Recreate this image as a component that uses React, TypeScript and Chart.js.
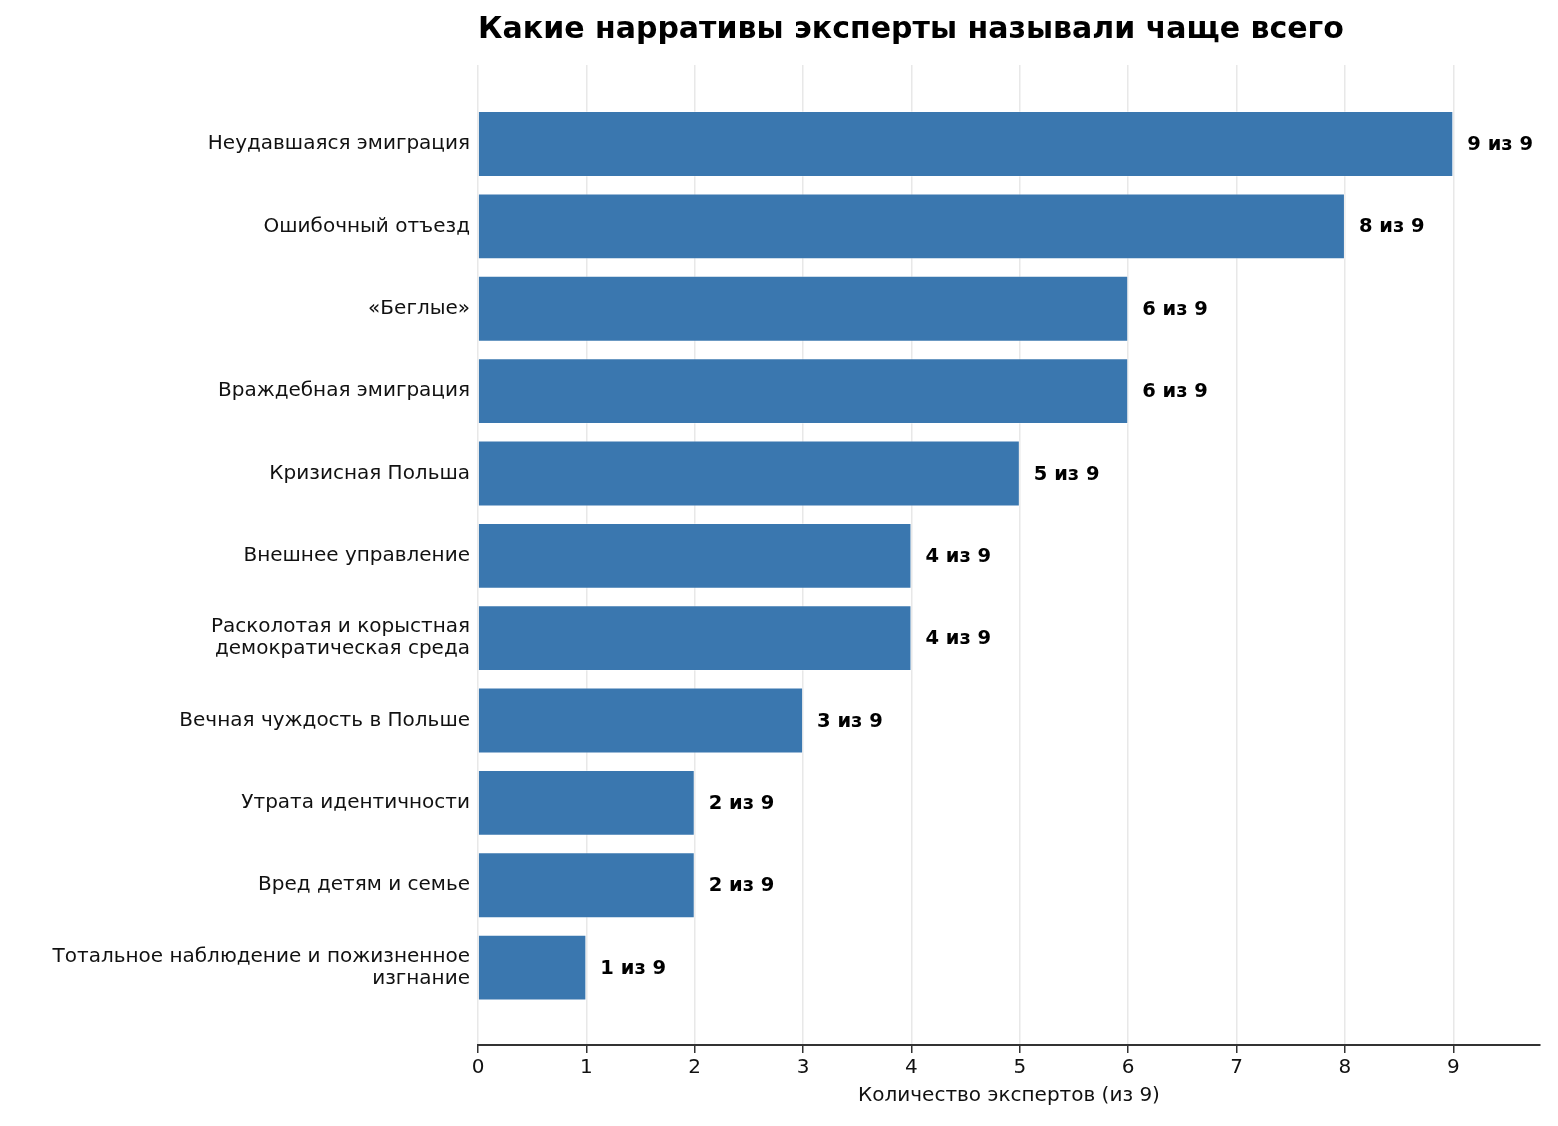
import { useEffect, useRef } from "react";
import Chart from "chart.js/auto";

const categories: (string | string[])[] = [
  "Неудавшаяся эмиграция",
  "Ошибочный отъезд",
  "«Беглые»",
  "Враждебная эмиграция",
  "Кризисная Польша",
  "Внешнее управление",
  ["Расколотая и корыстная", "демократическая среда"],
  "Вечная чуждость в Польше",
  "Утрата идентичности",
  "Вред детям и семье",
  ["Тотальное наблюдение и пожизненное", "изгнание"],
];
const counts = [9, 8, 6, 6, 5, 4, 4, 3, 2, 2, 1];
const total = 9;
const xTicks = [0, 1, 2, 3, 4, 5, 6, 7, 8, 9];

const title = "Какие нарративы эксперты называли чаще всего";
const xTitle = "Количество экспертов (из 9)";

const FONT = "'DejaVu Sans', sans-serif";

// title + value labels, drawn by hand so they sit where matplotlib puts them
const labelsPlugin = {
  id: "labels",
  afterDraw(chart: Chart) {
    const ctx = chart.ctx;
    const area = chart.chartArea;
    ctx.save();
    ctx.fillStyle = "#000";
    ctx.font = `bold 30px ${FONT}`;
    ctx.textAlign = "left";
    ctx.textBaseline = "middle";
    ctx.fillText(title, area.left, 22);

    const meta = chart.getDatasetMeta(0);
    ctx.font = `bold 19.5px ${FONT}`;
    meta.data.forEach((bar: any, i) => {
      ctx.fillText(`${counts[i]} из ${total}`, bar.x + 14, bar.y + 1);
    });
    ctx.restore();
  },
};

export default function App() {
  const canvasRef = useRef<HTMLCanvasElement | null>(null);

  useEffect(() => {
    if (!canvasRef.current) return;
    const chart = new Chart(canvasRef.current, {
      type: "bar",
      data: {
        datasets: [
          {
            data: counts.map((c, i) => ({ x: c, y: i })),
            backgroundColor: "#3a77af",
            borderColor: "rgba(255,255,255,0.35)",
            borderWidth: 1,
            categoryPercentage: 1,
            barPercentage: 0.8,
          },
        ],
      },
      options: {
        indexAxis: "y",
        animation: false,
        responsive: true,
        maintainAspectRatio: false,
        layout: { padding: { top: 57, right: 10, left: 0, bottom: 0 } },
        plugins: {
          legend: { display: false },
          tooltip: { enabled: false },
        },
        scales: {
          x: {
            type: "linear",
            min: 0,
            max: 9.8,
            afterBuildTicks: (scale: any) => {
              scale.ticks = xTicks.map(v => ({ value: v }));
            },
            afterFit: (scale: any) => {
              scale.height = 73;
            },
            grid: {
              color: "#e8e8e8",
              lineWidth: 1.5,
              tickColor: "#333",
              tickLength: 8,
            },
            border: { display: true, color: "#333", width: 2 },
            ticks: {
              color: "#111",
              font: { family: FONT, size: 20 },
              padding: 3,
              maxRotation: 0,
            },
            title: {
              display: true,
              text: xTitle,
              color: "#111",
              font: { family: FONT, size: 20 },
              padding: { top: 0, bottom: 10 },
            },
          },
          y: {
            type: "linear",
            reverse: true,
            offset: false,
            min: -0.96,
            max: 10.94,
            afterBuildTicks: (scale: any) => {
              scale.ticks = categories.map((_, i) => ({ value: i }));
            },
            afterFit: (scale: any) => {
              scale.width = 470;
            },
            grid: { display: false, offset: false, drawTicks: false },
            border: { display: false },
            ticks: {
              color: "#111",
              font: { family: FONT, size: 20, lineHeight: 1.1 },
              padding: 8,
              autoSkip: false,
              callback: (v: any) => categories[v as number],
            },
          },
        },
      },
      plugins: [labelsPlugin],
    });
    return () => chart.destroy();
  }, []);

  return (
    <div style={{ position: "relative", width: 1542, height: 1110 }}>
      <canvas ref={canvasRef} />
    </div>
  );
}
